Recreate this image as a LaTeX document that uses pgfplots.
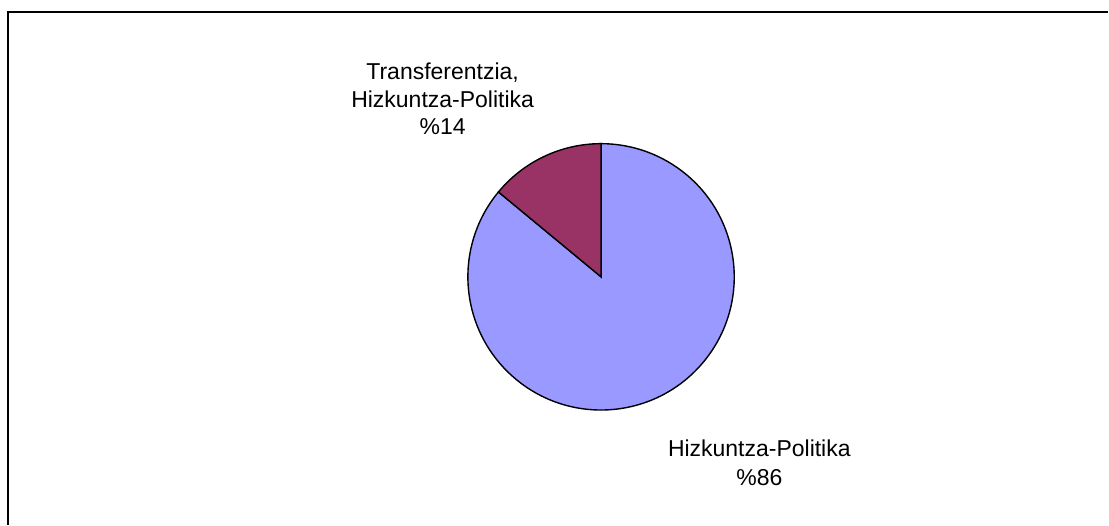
\documentclass[border=0pt]{standalone}
\usepackage{pgfplots}
\pgfplotsset{compat=1.18}
\usepackage{pgfplotstable}
\usepackage{fontspec}
\setmainfont{Liberation Sans}
\definecolor{sliceA}{RGB}{153,153,255}
\definecolor{sliceB}{RGB}{153,51,102}
\pgfplotstableread{
label value
Hizkuntza-Politika 86
Transferentzia 14
}\piedata
\begin{document}
\begin{tikzpicture}
\pgfplotstablegetelem{0}{value}\of\piedata \edef\va{\pgfplotsretval}
\pgfplotstablegetelem{1}{value}\of\piedata \edef\vb{\pgfplotsretval}
\pgfmathsetmacro{\angB}{90+\vb*3.6}
\path (0,0) rectangle (1109pt,525pt);
\begin{axis}[at={(0pt,0pt)}, anchor=south west,
  width=1109pt, height=525pt, scale only axis,
  xmin=0, xmax=1109, ymin=0, ymax=525,
  hide axis, clip=false]
\draw[line width=2pt, black] (axis cs:8.5,0) -- (axis cs:8.5,512.5) -- (axis cs:1109,512.5);
\filldraw[fill=sliceA, draw=black, line width=1.4pt]
  (axis cs:601.6,247.9) -- ++(\angB:133.3pt) arc[start angle=\angB, end angle=450, radius=133.3pt] -- cycle;
\filldraw[fill=sliceB, draw=black, line width=1.4pt]
  (axis cs:601.6,247.9) -- ++(90:133.3pt) arc[start angle=90, end angle=\angB, radius=133.3pt] -- cycle;
\node[align=center, font=\fontsize{23}{27.5}\selectfont] at (axis cs:443,426) {Transferentzia,\\Hizkuntza-Politika\\\%\vb};
\node[align=center, font=\fontsize{23}{29}\selectfont] at (axis cs:760,62) {Hizkuntza-Politika\\\%\va};
\end{axis}
\end{tikzpicture}
\end{document}
